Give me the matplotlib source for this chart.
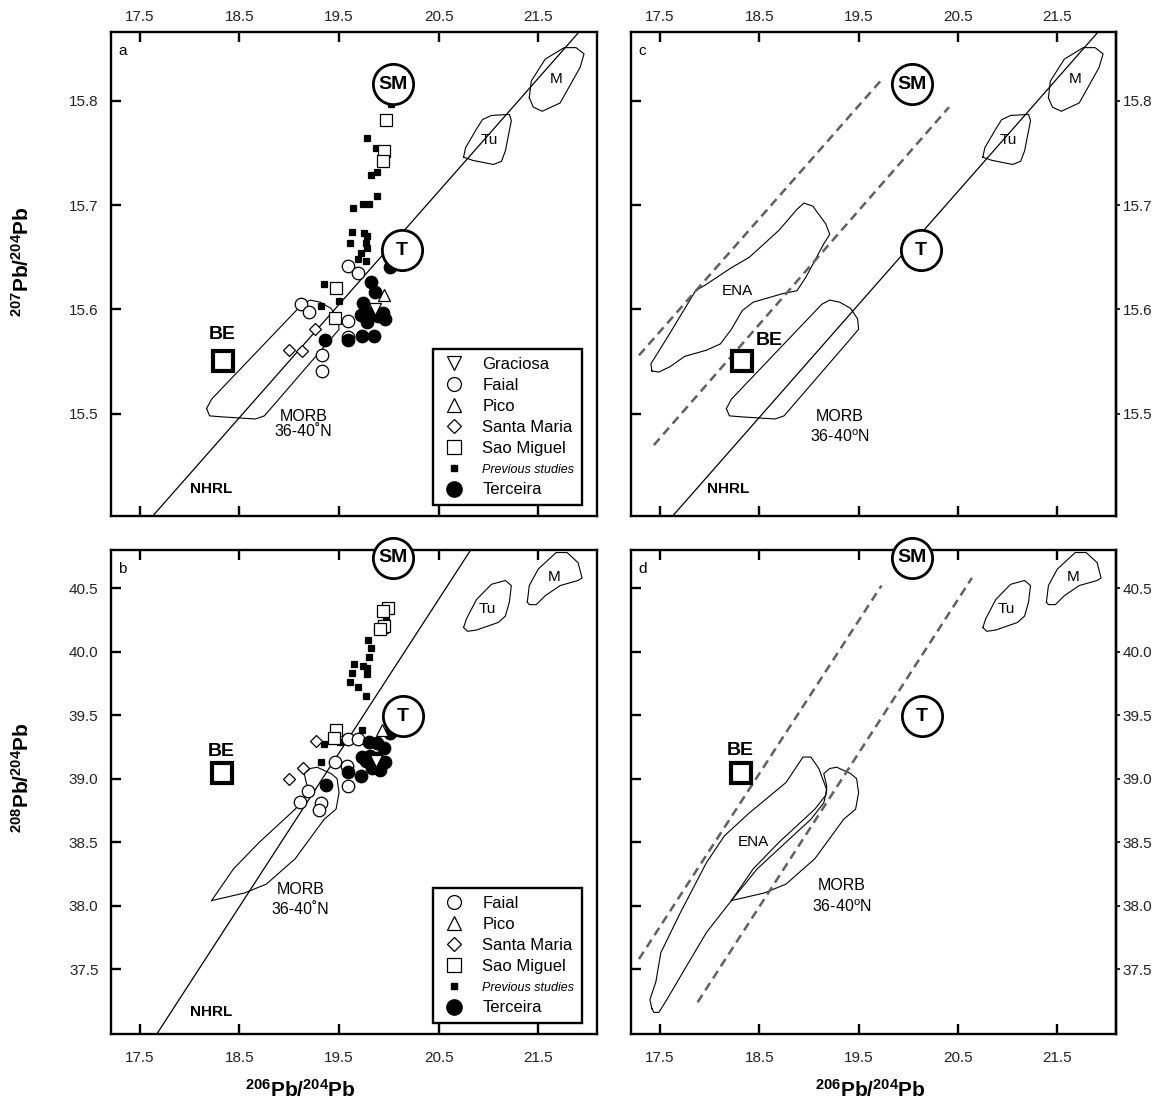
import numpy as np
import matplotlib.pyplot as plt
from matplotlib.lines import Line2D

plt.rcParams['font.family'] = ['Liberation Sans', 'DejaVu Sans']
plt.rcParams['mathtext.fontset'] = 'custom'
plt.rcParams['mathtext.rm'] = 'Liberation Sans'
plt.rcParams['mathtext.it'] = 'Liberation Sans:italic'
plt.rcParams['mathtext.bf'] = 'Liberation Sans:bold'

# ---------------- data: 206Pb/204Pb vs 207Pb/204Pb (panel a) ----------------
prev_a_x = [20.02, 19.78, 19.87, 19.82, 19.88, 19.88, 19.80, 19.74, 19.64, 19.63, 19.61,
            19.75, 19.78, 19.77, 19.78, 19.72, 19.69, 19.77, 19.35, 19.50, 19.32]
prev_a_y = [15.797, 15.764, 15.755, 15.729, 15.732, 15.709, 15.701, 15.701, 15.697, 15.674, 15.664,
            15.673, 15.670, 15.664, 15.659, 15.654, 15.648, 15.646, 15.624, 15.608, 15.603]
smig_a_x = [19.97, 19.95, 19.94, 19.47, 19.46]
smig_a_y = [15.782, 15.752, 15.742, 15.621, 15.592]
terc_a_x = [20.01, 19.82, 19.86, 19.74, 19.72, 19.80, 19.94, 19.96, 19.78, 19.73, 19.85, 19.59, 19.36, 19.89]
terc_a_y = [15.641, 15.626, 15.617, 15.606, 15.595, 15.597, 15.597, 15.591, 15.588, 15.575, 15.575,
            15.571, 15.571, 15.594]
faial_a_x = [19.59, 19.69, 19.12, 19.20, 19.59, 19.59, 19.33, 19.33, 19.77]
faial_a_y = [15.642, 15.635, 15.605, 15.598, 15.589, 15.574, 15.556, 15.541, 15.600]
pico_a_x = [19.95]
pico_a_y = [15.614]
grac_a_x = [19.86]
grac_a_y = [15.600]
smar_a_x = [19.26, 19.00, 19.13]
smar_a_y = [15.581, 15.561, 15.560]

# ---------------- data: 206Pb/204Pb vs 208Pb/204Pb (panel b) ----------------
prev_b_x = [20.03, 19.97, 19.88, 19.79, 19.82, 19.80, 19.65, 19.63, 19.74, 19.78, 19.78, 19.61,
            19.69, 19.77, 19.73, 19.35, 19.32, 19.51, 19.96]
prev_b_y = [40.60, 40.25, 40.17, 40.09, 40.03, 39.96, 39.90, 39.83, 39.89, 39.87, 39.82, 39.76,
            39.72, 39.65, 39.38, 39.27, 39.13, 39.29, 40.17]
smig_b_x = [19.99, 19.94, 19.95, 19.91, 19.47, 19.45]
smig_b_y = [40.34, 40.32, 40.20, 40.18, 39.38, 39.32]
faial_b_x = [19.59, 19.69, 19.46, 19.58, 19.59, 19.19, 19.11, 19.32, 19.30]
faial_b_y = [39.31, 39.31, 39.13, 39.10, 38.94, 38.90, 38.82, 38.81, 38.75]
terc_b_x = [20.01, 19.80, 19.88, 19.95, 19.73, 19.81, 19.88, 19.96, 19.83, 19.91, 19.59, 19.72, 19.37, 19.77]
terc_b_y = [39.36, 39.29, 39.28, 39.24, 39.17, 39.18, 39.16, 39.13, 39.08, 39.07, 39.05, 39.02, 38.95, 39.14]
pico_b_x = [19.93]
pico_b_y = [39.38]
grac_b_x = [19.87]
grac_b_y = [39.14]
smar_b_x = [19.27, 19.14, 19.00]
smar_b_y = [39.30, 39.08, 39.00]

# ---------------- end members (SM, T, BE) ----------------
sm_7 = (20.04, 15.816)
t_7 = (20.13, 15.657)
be_7 = (18.33, 15.551)
sm_8 = (20.04, 40.74)
t_8 = (20.14, 39.49)
be_8 = (18.32, 39.045)

# NHRL (Hart 1984)
nhrl_x = [16.5, 23.0]
nhrl7_coef = (0.1084, 13.491)
nhrl8_coef = (1.209, 15.627)

# ---------------- fields ----------------
morb7_x = [18.17, 18.20, 18.33, 18.66, 18.75, 19.42, 19.50, 19.49, 19.42, 19.31, 19.21, 19.13, 18.22, 18.17]
morb7_y = [15.505, 15.498, 15.497, 15.495, 15.498, 15.572, 15.581, 15.591, 15.601, 15.607, 15.609,
           15.605, 15.514, 15.505]
tu7_x = [20.75, 20.77, 20.88, 20.94, 21.03, 21.21, 21.23, 21.17, 21.13, 21.05, 20.84, 20.75]
tu7_y = [15.746, 15.755, 15.773, 15.782, 15.786, 15.787, 15.781, 15.752, 15.742, 15.739, 15.743, 15.746]
m7_x = [21.41, 21.45, 21.54, 21.72, 21.92, 21.96, 21.88, 21.76, 21.57, 21.43, 21.41]
m7_y = [15.803, 15.794, 15.790, 15.798, 15.832, 15.845, 15.851, 15.851, 15.840, 15.819, 15.803]
ena7_x = [17.42, 17.41, 17.47, 17.60, 17.86, 17.95, 18.22, 18.40, 18.70, 18.88, 18.95, 19.04, 19.17,
          19.21, 19.15, 19.06, 18.97, 18.88, 18.73, 18.44, 18.33, 18.22, 18.11, 17.97, 17.75, 17.60,
          17.49, 17.42]
ena7_y = [15.541, 15.548, 15.557, 15.577, 15.618, 15.623, 15.640, 15.650, 15.676, 15.696, 15.702,
          15.699, 15.682, 15.672, 15.663, 15.647, 15.631, 15.618, 15.615, 15.607, 15.599, 15.581,
          15.567, 15.561, 15.555, 15.545, 15.540, 15.541]

morb8_x = [18.22, 18.55, 18.77, 19.06, 19.35, 19.47, 19.50, 19.48, 19.42, 19.28, 19.21, 19.15, 19.18,
           19.17, 19.06, 18.70, 18.44, 18.22]
morb8_y = [38.04, 38.10, 38.17, 38.37, 38.68, 38.76, 38.89, 39.00, 39.04, 39.09, 39.08, 39.04, 38.94,
           38.87, 38.76, 38.50, 38.29, 38.04]
tu8_x = [20.75, 20.78, 20.88, 21.03, 21.17, 21.23, 21.21, 21.17, 21.10, 20.88, 20.79, 20.75]
tu8_y = [40.19, 40.26, 40.41, 40.53, 40.56, 40.52, 40.39, 40.28, 40.23, 40.17, 40.16, 40.19]
m8_x = [21.39, 21.41, 21.50, 21.68, 21.79, 21.90, 21.94, 21.90, 21.72, 21.57, 21.48, 21.41, 21.39]
m8_y = [40.39, 40.52, 40.65, 40.78, 40.78, 40.70, 40.58, 40.56, 40.52, 40.44, 40.37, 40.37, 40.39]
ena8_x = [17.42, 17.40, 17.46, 17.51, 17.71, 17.97, 18.15, 18.40, 18.77, 18.94, 19.02, 19.10, 19.18,
          19.15, 19.02, 18.77, 18.48, 18.22, 17.97, 17.75, 17.57, 17.49, 17.44, 17.42]
ena8_y = [37.19, 37.26, 37.40, 37.63, 37.95, 38.34, 38.55, 38.73, 38.97, 39.17, 39.17, 39.08, 38.91,
          38.81, 38.68, 38.50, 38.29, 38.04, 37.79, 37.50, 37.26, 37.16, 37.16, 37.19]

dash7_1_x, dash7_1_y = [17.29, 19.72], [15.556, 15.819]
dash7_2_x, dash7_2_y = [17.44, 20.41], [15.470, 15.794]
dash8_1_x, dash8_1_y = [17.29, 19.73], [37.58, 40.52]
dash8_2_x, dash8_2_y = [17.88, 20.64], [37.24, 40.58]

xticks = [17.5, 18.5, 19.5, 20.5, 21.5]
yticks7 = [15.5, 15.6, 15.7, 15.8]
yticks8 = [37.5, 38.0, 38.5, 39.0, 39.5, 40.0, 40.5]
legend_a = ['Graciosa', 'Faial', 'Pico', 'Santa Maria', 'Sao Miguel', 'Previous studies', 'Terceira']
legend_b = ['Faial', 'Pico', 'Santa Maria', 'Sao Miguel', 'Previous studies', 'Terceira']

W, H = 1166, 1112
fig = plt.figure(figsize=(W / 100, H / 100), dpi=100)


def add_ax(l, t, r, b):
    return fig.add_axes([l / W, 1 - b / H, (r - l) / W, (b - t) / H])


ax_a = add_ax(111, 32, 597, 516)
ax_c = add_ax(631, 32, 1116, 516)
ax_b = add_ax(111, 550, 597, 1034)
ax_d = add_ax(631, 550, 1116, 1034)

tick_col = '#222222'
for ax in (ax_a, ax_b, ax_c, ax_d):
    ax.set_xlim(17.21, 22.09)
    ax.set_xticks(xticks)
    ax.set_xticklabels([f'{v:.1f}' for v in xticks])
    for s in ax.spines.values():
        s.set_linewidth(1.7)
    ax.tick_params(direction='in', length=7, width=1.7, labelsize=11, labelcolor=tick_col)
for ax in (ax_a, ax_c):
    ax.set_ylim(15.402, 15.866)
    ax.set_yticks(yticks7)
    ax.set_yticklabels([f'{v:.1f}' for v in yticks7])
    ax.tick_params(axis='x', top=True, bottom=True, labeltop=True, labelbottom=False, pad=6)
for ax in (ax_b, ax_d):
    ax.set_ylim(36.99, 40.80)
    ax.set_yticks(yticks8)
    ax.set_yticklabels([f'{v:.1f}' for v in yticks8])
    ax.tick_params(axis='x', top=True, bottom=True, labeltop=False, labelbottom=True, pad=12)
for ax in (ax_a, ax_b):
    ax.tick_params(axis='y', left=True, right=False, labelleft=True, pad=9)
for ax, ticks in ((ax_c, yticks7), (ax_d, yticks8)):
    ax.tick_params(axis='y', left=True, right=False, labelleft=False)
    sec = ax.secondary_yaxis('right')
    sec.set_yticks(ticks)
    sec.set_yticklabels([f'{v:.1f}' for v in ticks])
    sec.spines['right'].set_linewidth(1.7)
    sec.tick_params(direction='out', length=3, width=1.2, labelsize=11, labelcolor=tick_col, pad=2)


def outline(ax, x, y):
    ax.plot(x, y, color='black', lw=0.8, zorder=1, solid_joinstyle='round')


def end_members(ax, sm, t, be, be_txt):
    for pos, txt in ((sm, 'SM'), (t, 'T')):
        ax.plot(*pos, 'o', ms=29, mfc='white', mec='black', mew=2, clip_on=False, zorder=6)
        ax.text(pos[0], pos[1], txt, ha='center', va='center', fontsize=14, fontweight='bold', zorder=7)
    ax.plot(*be, 's', ms=15, mfc='white', mec='black', mew=3, zorder=6)
    ax.text(be_txt[0], be_txt[1], 'BE', ha='center', va='center', fontsize=14, fontweight='bold', zorder=7)


def nhrl(ax, coef):
    ax.plot(nhrl_x, [coef[0] * v + coef[1] for v in nhrl_x], color='black', lw=0.9, zorder=1)


def samples(ax, d):
    kw = dict(ls='none', mec='black', mew=0.9, zorder=3)
    ax.plot(d['prev'][0], d['prev'][1], 's', ms=5, mfc='black', **kw)
    ax.plot(d['smig'][0], d['smig'][1], 's', ms=8, mfc='white', **kw)
    ax.plot(d['faial'][0], d['faial'][1], 'o', ms=9, mfc='white', **kw)
    ax.plot(d['terc'][0], d['terc'][1], 'o', ms=9, mfc='black', **kw)
    ax.plot(d['smar'][0], d['smar'][1], 'D', ms=6.5, mfc='white', **kw)
    ax.plot(d['pico'][0], d['pico'][1], '^', ms=9, mfc='white', **kw)
    ax.plot(d['grac'][0], d['grac'][1], 'v', ms=9, mfc='white', **kw)


def legend(ax, labels, markers):
    handles = []
    for m in markers:
        if m == 'prev':
            handles.append(Line2D([], [], ls='none', marker='s', ms=5, mfc='black', mec='black'))
        elif m == 'terc':
            handles.append(Line2D([], [], ls='none', marker='o', ms=11, mfc='black', mec='black'))
        else:
            handles.append(Line2D([], [], ls='none', marker=m, ms=10 if m != 'D' else 7.5,
                                  mfc='white', mec='black', mew=0.9))
    leg = ax.legend(handles, labels, loc='lower right', bbox_to_anchor=(0.969, 0.023),
                    borderaxespad=0, fancybox=False, framealpha=1, edgecolor='black',
                    fontsize=12, handlelength=1.6, handletextpad=0.9, labelspacing=0.36,
                    borderpad=0.45)
    leg.get_frame().set_linewidth(1.7)
    for t in leg.get_texts():
        if t.get_text() == 'Previous studies':
            t.set_fontstyle('italic')
            t.set_fontsize(9)
    leg.set_zorder(8)


# ---------------- panel a ----------------
outline(ax_a, morb7_x, morb7_y)
outline(ax_a, tu7_x, tu7_y)
outline(ax_a, m7_x, m7_y)
nhrl(ax_a, nhrl7_coef)
samples(ax_a, dict(prev=(prev_a_x, prev_a_y), smig=(smig_a_x, smig_a_y), faial=(faial_a_x, faial_a_y),
                   terc=(terc_a_x, terc_a_y), smar=(smar_a_x, smar_a_y), pico=(pico_a_x, pico_a_y),
                   grac=(grac_a_x, grac_a_y)))
end_members(ax_a, sm_7, t_7, be_7, (18.33, 15.576))
legend(ax_a, legend_a, ['v', 'o', '^', 'D', 's', 'prev', 'terc'])
ax_a.text(19.14, 15.497, 'MORB', ha='center', va='center', fontsize=11.5)
ax_a.text(19.14, 15.483, '36-40˚N', ha='center', va='center', fontsize=11.5)
ax_a.text(18.22, 15.428, 'NHRL', ha='center', va='center', fontsize=11, fontweight='bold')
ax_a.text(21.01, 15.762, 'Tu', ha='center', va='center', fontsize=11)
ax_a.text(21.68, 15.821, 'M', ha='center', va='center', fontsize=11)
ax_a.text(0.015, 0.975, 'a', transform=ax_a.transAxes, ha='left', va='top', fontsize=11)

# ---------------- panel b ----------------
outline(ax_b, morb8_x, morb8_y)
outline(ax_b, tu8_x, tu8_y)
outline(ax_b, m8_x, m8_y)
nhrl(ax_b, nhrl8_coef)
samples(ax_b, dict(prev=(prev_b_x, prev_b_y), smig=(smig_b_x, smig_b_y), faial=(faial_b_x, faial_b_y),
                   terc=(terc_b_x, terc_b_y), smar=(smar_b_x, smar_b_y), pico=(pico_b_x, pico_b_y),
                   grac=(grac_b_x, grac_b_y)))
end_members(ax_b, sm_8, t_8, be_8, (18.32, 39.21))
legend(ax_b, legend_b, ['o', '^', 'D', 's', 'prev', 'terc'])
ax_b.text(19.11, 38.13, 'MORB', ha='center', va='center', fontsize=11.5)
ax_b.text(19.11, 37.97, '36-40˚N', ha='center', va='center', fontsize=11.5)
ax_b.text(18.22, 37.16, 'NHRL', ha='center', va='center', fontsize=11, fontweight='bold')
ax_b.text(20.99, 40.335, 'Tu', ha='center', va='center', fontsize=11)
ax_b.text(21.66, 40.584, 'M', ha='center', va='center', fontsize=11)
ax_b.text(0.015, 0.975, 'b', transform=ax_b.transAxes, ha='left', va='top', fontsize=11)

# ---------------- panel c ----------------
dash_kw = dict(color='#606060', lw=1.8, ls=(0, (3.5, 2.2)), zorder=1)
outline(ax_c, morb7_x, morb7_y)
outline(ax_c, tu7_x, tu7_y)
outline(ax_c, m7_x, m7_y)
outline(ax_c, ena7_x, ena7_y)
nhrl(ax_c, nhrl7_coef)
ax_c.plot(dash7_1_x, dash7_1_y, **dash_kw)
ax_c.plot(dash7_2_x, dash7_2_y, **dash_kw)
end_members(ax_c, sm_7, t_7, be_7, (18.60, 15.570))
ax_c.text(19.31, 15.497, 'MORB', ha='center', va='center', fontsize=11.5)
ax_c.text(19.31, 15.478, r'36-40$^{\rm o}$N', ha='center', va='center', fontsize=11.5)
ax_c.text(18.19, 15.428, 'NHRL', ha='center', va='center', fontsize=11, fontweight='bold')
ax_c.text(18.28, 15.618, 'ENA', ha='center', va='center', fontsize=11)
ax_c.text(21.01, 15.762, 'Tu', ha='center', va='center', fontsize=11)
ax_c.text(21.68, 15.821, 'M', ha='center', va='center', fontsize=11)
ax_c.text(0.015, 0.975, 'c', transform=ax_c.transAxes, ha='left', va='top', fontsize=11)

# ---------------- panel d ----------------
outline(ax_d, morb8_x, morb8_y)
outline(ax_d, tu8_x, tu8_y)
outline(ax_d, m8_x, m8_y)
outline(ax_d, ena8_x, ena8_y)
ax_d.plot(dash8_1_x, dash8_1_y, **dash_kw)
ax_d.plot(dash8_2_x, dash8_2_y, **dash_kw)
end_members(ax_d, sm_8, t_8, be_8, (18.31, 39.224))
ax_d.text(19.33, 38.16, 'MORB', ha='center', va='center', fontsize=11.5)
ax_d.text(19.33, 37.99, r'36-40$^{\rm o}$N', ha='center', va='center', fontsize=11.5)
ax_d.text(18.44, 38.50, 'ENA', ha='center', va='center', fontsize=11)
ax_d.text(20.99, 40.335, 'Tu', ha='center', va='center', fontsize=11)
ax_d.text(21.66, 40.584, 'M', ha='center', va='center', fontsize=11)
ax_d.text(0.015, 0.975, 'd', transform=ax_d.transAxes, ha='left', va='top', fontsize=11)

# ---------------- axis titles ----------------
lab_kw = dict(ha='center', va='center', fontsize=15, fontweight='bold')
fig.text(22 / W, 1 - 262 / H, r'$\mathbf{^{207}Pb/^{204}Pb}$', rotation=90, **lab_kw)
fig.text(22 / W, 1 - 778 / H, r'$\mathbf{^{208}Pb/^{204}Pb}$', rotation=90, **lab_kw)
fig.text(300 / W, 1 - 1090 / H, r'$\mathbf{^{206}Pb/^{204}Pb}$', **lab_kw)
fig.text(870 / W, 1 - 1090 / H, r'$\mathbf{^{206}Pb/^{204}Pb}$', **lab_kw)

fig.savefig('out.png', dpi=100)
